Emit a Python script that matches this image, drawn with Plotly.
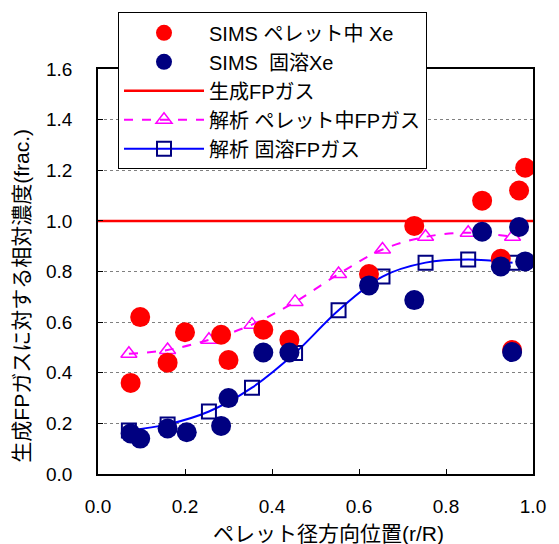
import plotly.graph_objects as go

# SIMS measurements: Xe in pellet (total) and Xe in solution
sims_total_x = [0.075, 0.097, 0.16, 0.20, 0.283, 0.30, 0.38, 0.44, 0.623, 0.727, 0.883, 0.926, 0.952, 0.968, 0.982]
sims_total_y = [0.36, 0.62, 0.44, 0.56, 0.55, 0.45, 0.57, 0.53, 0.79, 0.98, 1.08, 0.85, 0.49, 1.12, 1.21]

sims_sol_x = [0.075, 0.097, 0.16, 0.204, 0.283, 0.30, 0.38, 0.44, 0.623, 0.727, 0.883, 0.926, 0.952, 0.968, 0.982]
sims_sol_y = [0.16, 0.14, 0.18, 0.165, 0.19, 0.30, 0.48, 0.48, 0.745, 0.687, 0.957, 0.82, 0.482, 0.976, 0.84]

# Generated FP gas (reference level)
gen_x = [0.0, 1.0]
gen_y = [1.0, 1.0]

# Calculated FP gas in pellet and in solution
calc_x = [0.071, 0.16, 0.255, 0.354, 0.453, 0.553, 0.654, 0.753, 0.851, 0.953]
calc_total_y = [0.475, 0.49, 0.53, 0.59, 0.68, 0.79, 0.887, 0.937, 0.953, 0.937]
calc_sol_y = [0.172, 0.196, 0.247, 0.341, 0.478, 0.647, 0.78, 0.835, 0.847, 0.835]

x_ticks = [0.0, 0.2, 0.4, 0.6, 0.8, 1.0]
y_ticks = [0.0, 0.2, 0.4, 0.6, 0.8, 1.0, 1.2, 1.4, 1.6]

x_title = "ペレット径方向位置(r/R)"
y_title = "生成FPガスに対する相対濃度(frac.)"

FONT = "Liberation Sans, Noto Sans CJK JP, sans-serif"

fig = go.Figure()

fig.add_trace(go.Scatter(
    x=gen_x, y=gen_y, mode="lines", name="生成FPガス", legendrank=3,
    line=dict(color="#ff0000", width=2.5),
))
fig.add_trace(go.Scatter(
    x=calc_x, y=calc_total_y, mode="lines+markers", name="解析 ペレット中FPガス", legendrank=4,
    line=dict(color="#ff00ff", width=2, dash="dash", shape="spline"),
    marker=dict(symbol="triangle-up-open", size=14, color="#ff00ff", line=dict(width=1.5)),
))
fig.add_trace(go.Scatter(
    x=calc_x, y=calc_sol_y, mode="lines+markers", name="解析 固溶FPガス", legendrank=5,
    line=dict(color="#0000ff", width=2, shape="spline"),
    marker=dict(symbol="square-open", size=14, color="#000080", line=dict(width=2)),
))
fig.add_trace(go.Scatter(
    x=sims_total_x, y=sims_total_y, mode="markers", name="SIMS ペレット中 Xe", legendrank=1,
    marker=dict(symbol="circle", size=20, color="#ff0000"),
))
fig.add_trace(go.Scatter(
    x=sims_sol_x, y=sims_sol_y, mode="markers", name="SIMS  固溶Xe", legendrank=2,
    marker=dict(symbol="circle", size=20, color="#000080"),
))

fig.update_layout(
    width=559, height=544,
    margin=dict(l=98, r=26, t=65, b=70),
    paper_bgcolor="white", plot_bgcolor="white",
    font=dict(family=FONT, size=19, color="black"),
    showlegend=True,
    legend=dict(
        x=0.046, xanchor="left", y=1.14, yanchor="top",
        bgcolor="white", bordercolor="black", borderwidth=1,
        font=dict(size=20), itemwidth=80, tracegroupgap=0,
    ),
    xaxis=dict(
        range=[0, 1], tickvals=x_ticks, tickformat=".1f",
        showline=True, linecolor="black", linewidth=1.5, mirror=True,
        ticks="inside", ticklen=5, tickcolor="black",
        ticklabelstandoff=14,
        showgrid=False, zeroline=False,
    ),
    yaxis=dict(
        range=[0, 1.6], tickvals=y_ticks, tickformat=".1f",
        showline=True, linecolor="black", linewidth=1.5, mirror=True,
        ticks="inside", ticklen=5, tickcolor="black",
        ticklabelstandoff=20,
        showgrid=True, gridcolor="#808080", gridwidth=1, griddash="dot",
        zeroline=False,
    ),
    annotations=[
        dict(text=x_title, xref="paper", yref="paper", x=0.53, y=-0.148,
             xanchor="center", yanchor="middle", showarrow=False,
             font=dict(size=21)),
        dict(text=y_title, xref="paper", yref="paper", x=-0.175, y=0.44,
             xanchor="center", yanchor="middle", textangle=-90, showarrow=False,
             font=dict(size=21)),
    ],
)

fig.write_html("out.html")
